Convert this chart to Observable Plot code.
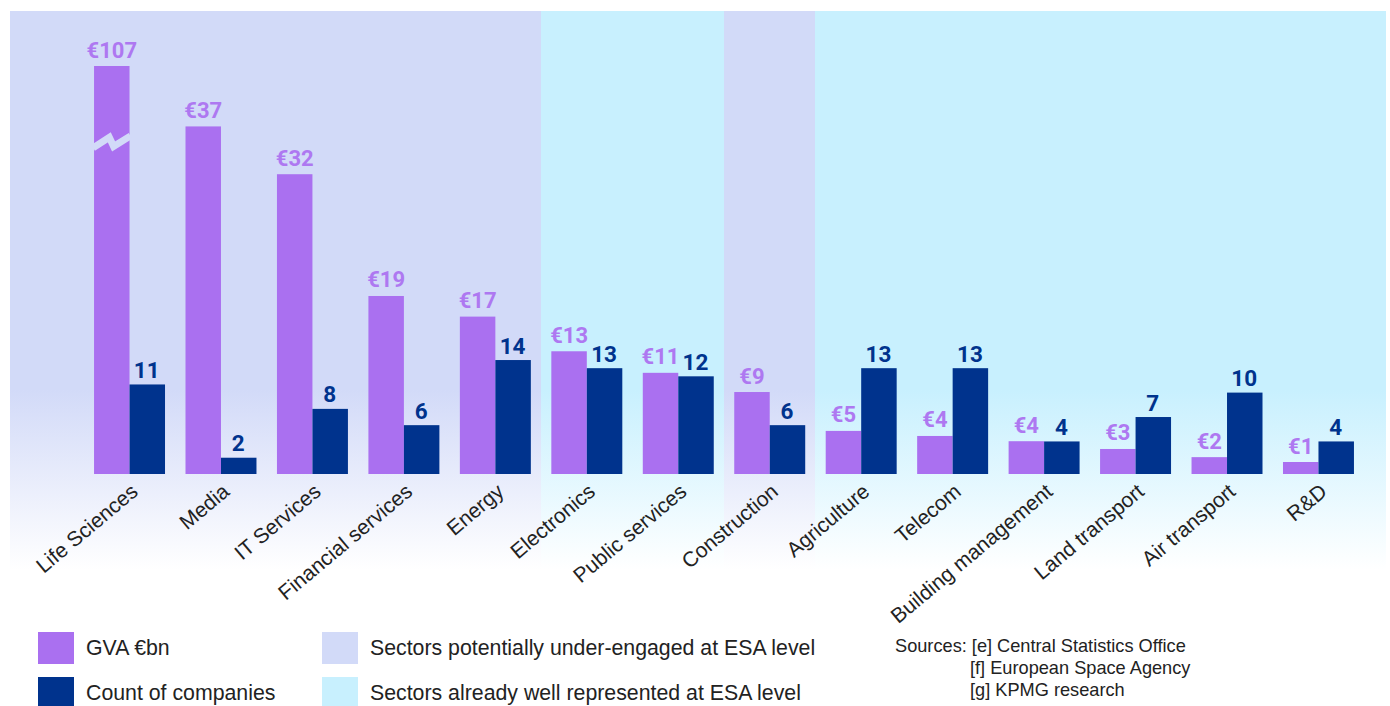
<!DOCTYPE html>
<html><head><meta charset="utf-8">
<script src="https://cdn.jsdelivr.net/npm/d3@7"></script>
<script src="https://cdn.jsdelivr.net/npm/@observablehq/plot@0.6"></script>
<style>
html,body{margin:0;padding:0;background:#fff;overflow:hidden;}
#wrap{position:relative;width:1390px;height:706px;font-family:"Liberation Sans",Arial,sans-serif;color:#222;}
#wrap svg{position:absolute;left:0;top:0;}
.sw{position:absolute;width:36px;height:32px;}
.lt{position:absolute;font-size:21.3px;line-height:24px;white-space:nowrap;}
.src{position:absolute;font-size:18.2px;line-height:22px;white-space:nowrap;color:#222;}
</style></head><body><div id="wrap"></div>
<script>
// ---- data ----
const sectors = ["Life Sciences","Media","IT Services","Financial services","Energy","Electronics","Public services","Construction","Agriculture","Telecom","Building management","Land transport","Air transport","R&D"];
const gva = [107, 37.1, 32, 19, 16.8, 13.1, 10.8, 8.75, 4.6, 4.06, 3.5, 2.67, 1.8, 1.28];
const gvaLabels = ["€107","€37","€32","€19","€17","€13","€11","€9","€5","€4","€4","€3","€2","€1"];
const companies = [11, 2, 8, 6, 14, 13, 12, 6, 13, 13, 4, 7, 10, 4];
const zones = ["under","under","under","under","under","well","well","under","well","well","well","well","well","well"];
const legendSeries = ["GVA €bn", "Count of companies"];
const legendZones = ["Sectors potentially under-engaged at ESA level", "Sectors already well represented at ESA level"];
const sources = ["Sources: [e] Central Statistics Office", "[f] European Space Agency", "[g] KPMG research"];

// ---- styles ----
const C_GVA = "#aa70f0", C_GVA_TXT = "#ae78f1", C_CNT = "#00338d";
const zoneColors = {under: "#d2daf8", well: "#c8f0fe"};
const PAD = 0.224;
const breakAt = 35.4;

const data = sectors.map((s, i) => ({sector: s, gva: gva[i], label: gvaLabels[i], count: companies[i], zone: zones[i]}));

const xOpts = {domain: sectors, range: [83.8, 1364.2], paddingInner: PAD, paddingOuter: PAD / 2, round: false, axis: null};

function bandInfo(x) {
  const step = x(sectors[1]) - x(sectors[0]);
  return {step, bw: step * (1 - PAD)};
}

function background(index, scales, values, dim) {
  const x = scales.x;
  const {step, bw} = bandInfo(x);
  const y0 = scales.y(0);
  const fadeTop = y0 - 84, fadeBottom = y0 + 96;
  const g = d3.create("svg:g");
  const defs = g.append("defs");
  for (const [key, color] of Object.entries(zoneColors)) {
    const lg = defs.append("linearGradient").attr("id", "fade-" + key)
      .attr("gradientUnits", "userSpaceOnUse").attr("x1", 0).attr("x2", 0)
      .attr("y1", fadeTop).attr("y2", fadeBottom);
    lg.append("stop").attr("offset", 0).attr("stop-color", color);
    lg.append("stop").attr("offset", 1).attr("stop-color", "#fff");
  }
  const gap = (step - bw) / 2;
  sectors.forEach((s, i) => {
    const left = i === 0 ? dim.marginLeft : x(s) - gap;
    const right = i === sectors.length - 1 ? dim.width - dim.marginRight : x(s) + bw + gap;
    g.append("rect").attr("x", left).attr("y", dim.marginTop)
      .attr("width", right - left).attr("height", fadeBottom - dim.marginTop)
      .attr("shape-rendering", "crispEdges")
      .attr("fill", `url(#fade-${zones[i]})`);
  });
  return g.node();
}

function breakMark(index, scales) {
  const x = scales.x;
  const {bw} = bandInfo(x);
  const x0 = x(sectors[0]);
  const w = bw / 2;
  const yc = scales.y(breakAt);
  const pts = [[x0 - 1, yc + 5.5], [x0 + w * 0.43, yc - 5], [x0 + w * 0.55, yc + 4], [x0 + w + 1, yc - 6.5]];
  return d3.create("svg:path").attr("d", d3.line()(pts))
    .attr("fill", "none").attr("stroke", zoneColors.under).attr("stroke-width", 7)
    .attr("stroke-linejoin", "miter").node();
}

const common = {width: 1390, height: 706, marginLeft: 10, marginRight: 4, marginTop: 11, marginBottom: 10};

const half = 35.49;

const plot1 = Plot.plot({
  ...common,
  style: {fontFamily: "Roboto", background: "transparent"},
  x: xOpts,
  y: {domain: [0, 43.55], range: [474, 66], clamp: true, axis: null},
  marks: [
    background,
    Plot.barY(data, {x: "sector", y: "gva", fill: C_GVA, insetRight: half}),
    breakMark,
    Plot.text(data, {x: "sector", y: "gva", text: "label", dx: -half / 2 - 0.5, dy: -9, lineAnchor: "bottom",
      fill: C_GVA_TXT, fontSize: 22, fontWeight: 700, fontFamily: "Roboto"}),
    Plot.text(data, {x: "sector", y: d => 0, text: "sector", rotate: -40, textAnchor: "end", lineAnchor: "middle",
      dx: 5, dy: 14, fill: "#222", fontSize: 21, fontFamily: "Liberation Sans"})
  ]
});

const plot2 = Plot.plot({
  ...common,
  style: {fontFamily: "Roboto", background: "transparent"},
  x: xOpts,
  y: {domain: [0, 50], range: [474, 67], axis: null},
  marks: [
    Plot.barY(data, {x: "sector", y: "count", fill: C_CNT, insetLeft: half}),
    Plot.text(data, {x: "sector", y: "count", text: d => String(d.count), dx: half / 2 - 1, dy: -7, lineAnchor: "bottom",
      fill: C_CNT, fontSize: 22.5, fontWeight: 700, fontFamily: "Roboto"})
  ]
});

const wrap = document.getElementById("wrap");
wrap.appendChild(plot1);
wrap.appendChild(plot2);

// ---- legend ----
function addSwatch(left, top, color) {
  const d = document.createElement("div");
  d.className = "sw"; d.style.left = left + "px"; d.style.top = top + "px"; d.style.background = color;
  wrap.appendChild(d);
}
function addText(cls, left, top, txt) {
  const d = document.createElement("div");
  d.className = cls; d.style.left = left + "px"; d.style.top = top + "px"; d.textContent = txt;
  wrap.appendChild(d);
}
addSwatch(38, 632, C_GVA); addText("lt", 86, 636, legendSeries[0]);
addSwatch(38, 677, C_CNT); addText("lt", 86, 681, legendSeries[1]);
addSwatch(322, 632, zoneColors.under); addText("lt", 370, 636, legendZones[0]);
addSwatch(322, 677, zoneColors.well); addText("lt", 370, 681, legendZones[1]);
addText("src", 895, 635, sources[0]);
addText("src", 970, 657, sources[1]);
addText("src", 970, 679, sources[2]);
</script>
</body></html>
